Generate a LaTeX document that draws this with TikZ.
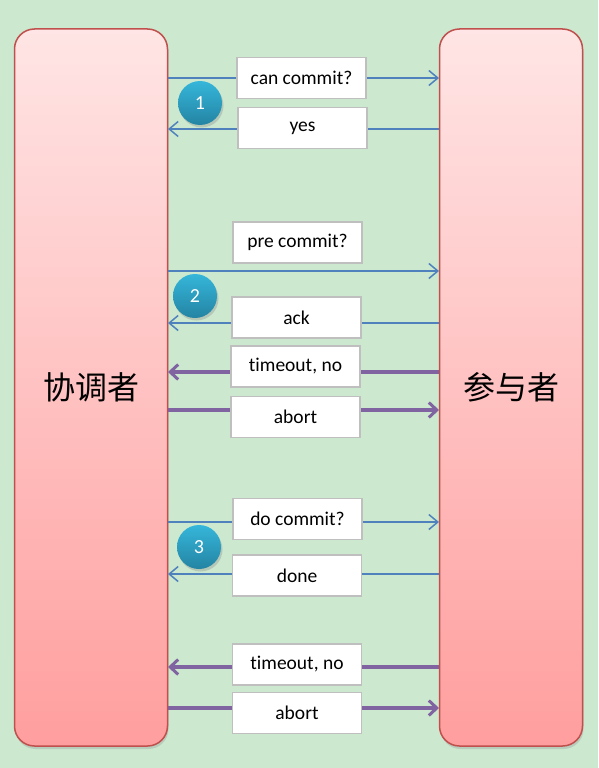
\documentclass[tikz,border=0pt]{standalone}
\usepackage{fontspec}
\setmainfont{Carlito}[Ligatures=NoCommon]
\newfontfamily\cjk{Noto Sans CJK SC}
\usetikzlibrary{shadows,arrows.meta}
\definecolor{bggreen}{HTML}{CCE8CF}
\definecolor{boxred}{HTML}{C0504D}
\definecolor{pinktop}{HTML}{FFE5E5}
\definecolor{pinkbot}{HTML}{FF9E9E}
\definecolor{msgblue}{HTML}{4F81BD}
\definecolor{msgpurple}{HTML}{8064A2}
\definecolor{balltop}{HTML}{35B6DA}
\definecolor{ballbot}{HTML}{2484A3}
\definecolor{lblgray}{HTML}{BFBFBF}
\tikzset{
  bigbox/.style={rounded corners=20pt, draw=boxred, line width=1.5pt,
    top color=pinktop, bottom color=pinkbot, minimum height=717pt,
    inner sep=0pt, font=\cjk\fontsize{32}{36}\selectfont,
    drop shadow={opacity=0.25, shadow xshift=1pt, shadow yshift=-3pt}},
  lbl/.style={draw=lblgray, line width=1.8pt, fill=white, minimum width=129pt,
    minimum height=41pt, inner sep=0pt, font=\fontsize{19.5}{22}\selectfont},
  thinmsg/.style={draw=msgblue, line width=1.5pt, -{Straight Barb[length=9pt,width=15pt,line width=1.5pt]}},
  thickmsg/.style={draw=msgpurple, line width=3.5pt, -{Straight Barb[length=8pt,width=15pt,line width=3pt]}},
  ball/.style={circle, minimum size=44pt, inner sep=0pt, top color=balltop, bottom color=ballbot,
    text=white, font=\fontsize{20}{23}\selectfont,
    drop shadow={opacity=0.3, shadow xshift=1.5pt, shadow yshift=-2.5pt}}
}
\begin{document}
\begin{tikzpicture}[x=1pt,y=-1pt]
\fill[bggreen] (0,0) rectangle (598,768);
\useasboundingbox (0,0) rectangle (598,768);
\node[bigbox, minimum width=153pt] (L) at (91,387.5) {协调者};
\node[bigbox, minimum width=143pt] (R) at (511,387.5) {参与者};
% phase 1
\coordinate (a1) at (168,78); \coordinate (b1) at (439,78);
\coordinate (a2) at (168,129); \coordinate (b2) at (439,129);
\draw[thinmsg] (a1) -- (b1);
\draw[thinmsg] (b2) -- (a2);
\node[lbl] (m1) at (301.5,78) {can commit?};
\node[lbl] (m2) at (302.5,128) {yes};
\node[ball] (c1) at (200,103) {1};
% phase 2
\coordinate (a3) at (168,271); \coordinate (b3) at (439,271);
\coordinate (a4) at (168,323); \coordinate (b4) at (439,323);
\coordinate (a5) at (168,372); \coordinate (b5) at (439,372);
\coordinate (a6) at (168,410); \coordinate (b6) at (439,410);
\draw[thinmsg] (a3) -- (b3);
\draw[thinmsg] (b4) -- (a4);
\draw[thickmsg] (b5) -- (a5);
\draw[thickmsg] (a6) -- (b6);
\node[lbl] (m3) at (297.5,242.5) {pre commit?};
\node[lbl] (m4) at (296.5,317.5) {ack};
\node[lbl] (m5) at (295.5,366.5) {timeout, no};
\node[lbl] (m6) at (295.5,417) {abort};
\node[ball] (c2) at (195,296) {2};
% phase 3
\coordinate (a7) at (168,522); \coordinate (b7) at (439,522);
\coordinate (a8) at (168,574); \coordinate (b8) at (439,574);
\coordinate (a9) at (168,667); \coordinate (b9) at (439,667);
\coordinate (a10) at (168,708); \coordinate (b10) at (439,708);
\draw[thinmsg] (a7) -- (b7);
\draw[thinmsg] (b8) -- (a8);
\draw[thickmsg] (b9) -- (a9);
\draw[thickmsg] (a10) -- (b10);
\node[lbl] (m7) at (297.5,519) {do commit?};
\node[lbl] (m8) at (297,575.5) {done};
\node[lbl] (m9) at (297,664.5) {timeout, no};
\node[lbl] (m10) at (297,713) {abort};
\node[ball] (c3) at (199,547) {3};
\end{tikzpicture}
\end{document}
